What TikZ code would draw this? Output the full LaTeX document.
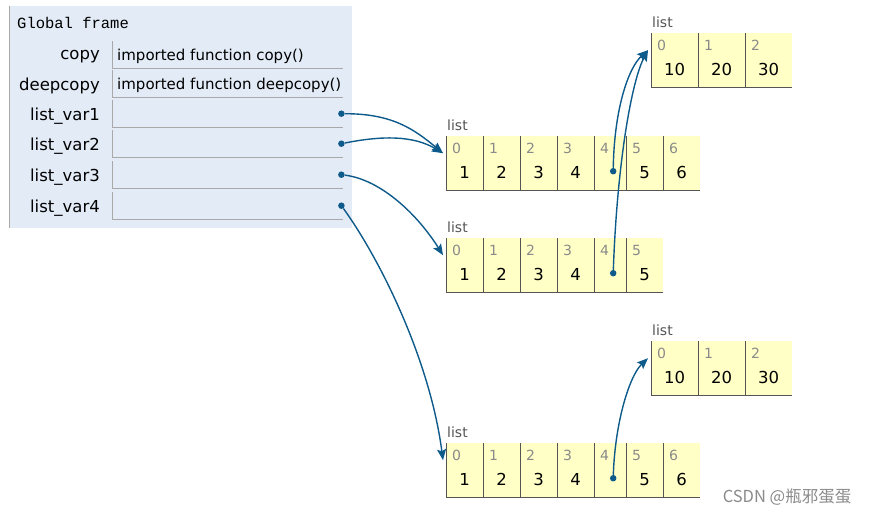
\documentclass[tikz,border=0pt]{standalone}
\usepackage{fontspec}
\setmainfont{DejaVu Sans}
\setmonofont{Liberation Mono}
\newfontfamily\cjkfont{Noto Sans CJK SC}
\usetikzlibrary{arrows.meta}
\definecolor{ptframe}{HTML}{E2EBF6}
\definecolor{ptyellow}{HTML}{FFFFC6}
\definecolor{ptarrow}{HTML}{0E5A8A}
\definecolor{ptgrey}{HTML}{555555}
\definecolor{ptidx}{HTML}{8A8A8A}
\definecolor{ptslot}{HTML}{A9A9A9}

\tikzset{
  varname/.style={anchor=east, inner sep=0pt, font=\fontsize{16.5}{18}\selectfont},
  varval/.style={anchor=west, inner sep=0pt, font=\fontsize{15}{18}\selectfont},
  slot/.style={anchor=north west, inner sep=0pt, minimum width=231pt, minimum height=27pt},
  cellbox/.style={anchor=north west, inner sep=0pt, minimum height=54pt, fill=ptyellow},
  listlbl/.style={anchor=west, inner sep=0pt, text=ptgrey, font=\fontsize{14}{15}\selectfont},
  idx/.style={anchor=north west, inner sep=0pt, text=ptidx, font=\fontsize{14}{15}\selectfont},
  val/.style={inner sep=0pt, font=\fontsize{16.5}{18}\selectfont},
  refdot/.style={circle, fill=ptarrow, inner sep=0pt, minimum size=6.5pt},
  ref/.style={ptarrow, line width=1.4pt, -{Stealth[length=11pt,width=9pt,inset=2pt]}},
}

\begin{document}
\begin{tikzpicture}[x=1pt, y=-1pt]
\useasboundingbox (0,0) rectangle (870,517);

% global frame
\fill[ptframe] (9,6) rectangle (352,228);
\draw[ptslot] (9.5,6) -- (9.5,228);
\node[anchor=west, inner sep=0pt, font=\ttfamily\fontsize{15.5}{18}\selectfont] (gf) at (17,23) {Global frame};
\foreach \k/\lbl/\y/\t in {1/copy/41/imported function copy(), 2/deepcopy/70/imported function deepcopy(),
    3/list\_var1/100/, 4/list\_var2/130/, 5/list\_var3/161/, 6/list\_var4/192/}{
  \node[slot] (s\k) at (112,\y) {};
  \draw[ptslot] (s\k.north west) -- (s\k.south west) -- (s\k.south east);
  \node[varname] (n\k) at ([xshift=-12pt,yshift=-2pt]s\k.west) {\lbl};
  \node[varval] (v\k) at ([xshift=5pt,yshift=-1.5pt]s\k.west) {\t};
}
\foreach \k in {3,4,5,6}
  \node[refdot] (d\k) at ([xshift=-2pt]s\k.east) {};

% lists of seven
\foreach \l/\top in {A/136, E/443}{
  \foreach \i/\x/\w/\v in {0/446/37/1, 1/483/37/2, 2/520/37/3, 3/557/37/4, 4/594/32/, 5/626/37/5, 6/663/37/6}{
    \node[cellbox, minimum width=\w] (l\l\i) at (\x,\top) {};
    \draw[ptgrey] (l\l\i.north west) -- (l\l\i.south west) -- (l\l\i.south east);
    \node[idx] at ([xshift=6pt,yshift=-7pt]l\l\i.north west) {\i};
    \node[val] at ([yshift=-9pt]l\l\i.center) {\v};
  }
  \node[listlbl] at ([xshift=1pt,yshift=11pt]l\l0.north west) {list};
  \node[refdot] (p\l) at ([xshift=3pt,yshift=-8pt]l\l4.center) {};
}

% list of six
\foreach \i/\x/\w/\v in {0/446/37/1, 1/483/37/2, 2/520/37/3, 3/557/37/4, 4/594/32/, 5/626/37/5}{
  \node[cellbox, minimum width=\w] (lB\i) at (\x,238) {};
  \draw[ptgrey] (lB\i.north west) -- (lB\i.south west) -- (lB\i.south east);
  \node[idx] at ([xshift=6pt,yshift=-7pt]lB\i.north west) {\i};
  \node[val] at ([yshift=-9pt]lB\i.center) {\v};
}
\node[listlbl] at ([xshift=1pt,yshift=11pt]lB0.north west) {list};
\node[refdot] (pB) at ([xshift=3pt,yshift=-8pt]lB4.center) {};

% lists of three
\foreach \l/\top in {C/33, D/341}{
  \foreach \i/\x/\v in {0/651/10, 1/698/20, 2/745/30}{
    \node[cellbox, minimum width=47pt] (l\l\i) at (\x,\top) {};
    \draw[ptgrey] (l\l\i.north west) -- (l\l\i.south west) -- (l\l\i.south east);
    \node[idx] at ([xshift=6pt,yshift=-7pt]l\l\i.north west) {\i};
    \node[val] at ([yshift=-9pt]l\l\i.center) {\v};
  }
  \node[listlbl] at ([xshift=1pt,yshift=11pt]l\l0.north west) {list};
}

% references
\draw[ref] (d3) .. controls +(50,0) and +(-30,-25) .. ([xshift=-3pt,yshift=10pt]lA0.west);
\draw[ref] (d4) .. controls +(40,-8) and +(-30,-18) .. ([xshift=-3pt,yshift=10pt]lA0.west);
\draw[ref] (d5) .. controls +(40,5) and +(-25,-40) .. ([xshift=-3pt,yshift=10pt]lB0.west);
\draw[ref] (d6) .. controls +(39,54) and +(-13,-100) .. ([xshift=-3pt,yshift=10pt]lE0.west);
\draw[ref] (pA) .. controls +(1,-61) and +(-20,18) .. ([xshift=-3pt,yshift=10pt]lC0.west);
\draw[ref] (pB) .. controls +(4,-112) and +(-16,30) .. ([xshift=-3pt,yshift=10pt]lC0.west);
\draw[ref] (pE) .. controls +(2,-58) and +(-18,17) .. ([xshift=-3pt,yshift=10pt]lD0.west);

\node[text=ptidx, inner sep=0pt, font=\cjkfont\fontsize{16.5}{18}\selectfont] (mark) at (787,497) {CSDN @瓶邪蛋蛋};
\end{tikzpicture}
\end{document}
